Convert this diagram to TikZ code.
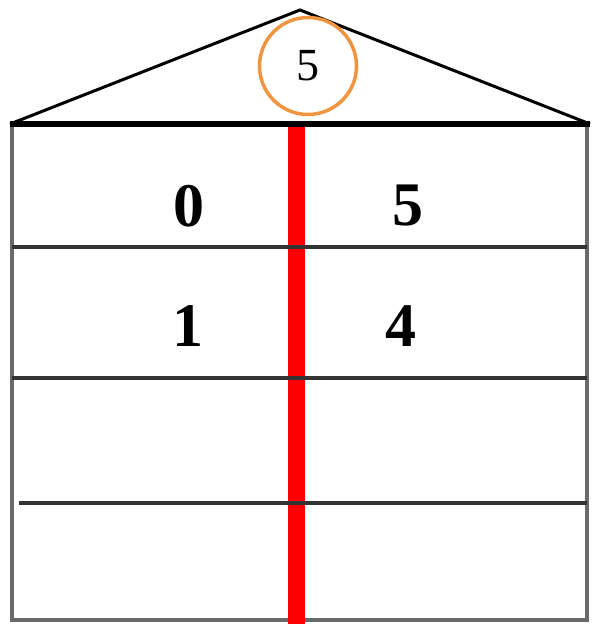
\documentclass[tikz,border=0pt]{standalone}
\usepackage{fontspec}
\setmainfont{Liberation Serif}
\definecolor{ring}{HTML}{F0953F}
\definecolor{wall}{HTML}{6A6A6A}
\tikzset{
  num/.style={inner sep=0pt,font=\fontsize{62}{64}\selectfont\bfseries},
  top/.style={circle,draw=ring,line width=3.5pt,fill=white,minimum size=97pt,inner sep=0pt,font=\fontsize{46}{48}\selectfont},
  floor/.style={line width=3.5pt,draw=black!80},
  side/.style={line width=4.5pt,draw=wall},
  split/.style={line width=17pt,draw=red},
}
\begin{document}
\begin{tikzpicture}[x=1pt,y=-1pt]
\useasboundingbox (0,0) rectangle (597,624);
% roof
\draw[line width=3pt,line join=miter] (10,124) -- (300,10) -- (590,124);
% walls
\draw[side] (12,124) -- (12,620) -- (587,620) -- (587,124);
% middle bar
\draw[split] (296,124) -- (296,624);
% floors
\draw[floor] (12,247) -- (587,247);
\draw[floor] (12,378) -- (587,378);
\draw[floor] (19,503) -- (587,503);
\draw[line width=5.5pt] (10,124) -- (590,124);
% numbers
\node[top] (c) at (308,66) {5};
\node[num] (a1) at (189,206) {0};
\node[num] (b1) at (408,206) {5};
\node[num] (a2) at (188,326) {1};
\node[num] (b2) at (401,326) {4};
\end{tikzpicture}
\end{document}
